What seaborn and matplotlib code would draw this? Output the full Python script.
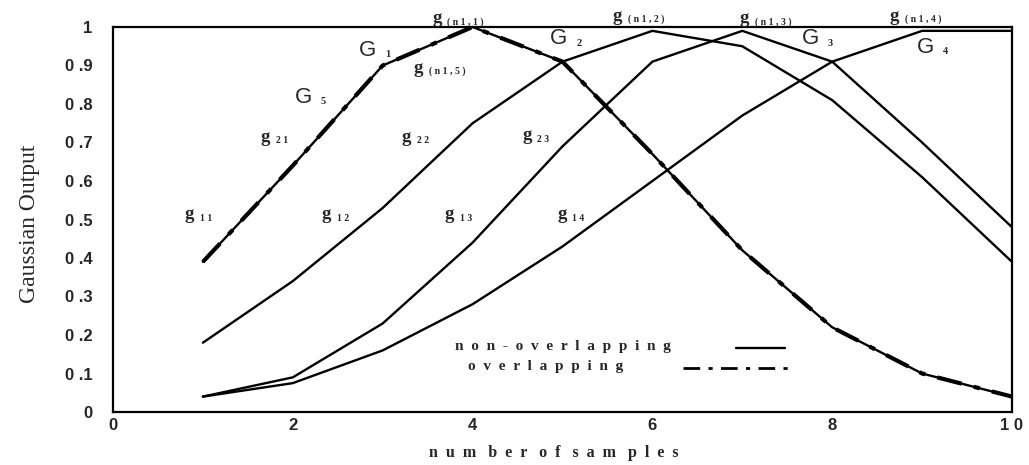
import numpy as np
import pandas as pd
import seaborn as sns
import matplotlib.pyplot as plt
from matplotlib.lines import Line2D

# Gaussian outputs sampled at integer sample counts
samples = [1, 2, 3, 4, 5, 6, 7, 8, 9, 10]
g1_out = [0.39, 0.64, 0.90, 1.00, 0.91, 0.67, 0.42, 0.22, 0.10, 0.04]
g2_out = [0.18, 0.34, 0.53, 0.75, 0.91, 0.99, 0.95, 0.81, 0.61, 0.39]
g3_out = [0.04, 0.09, 0.23, 0.44, 0.69, 0.91, 0.99, 0.91, 0.70, 0.48]
g4_out = [0.04, 0.075, 0.16, 0.28, 0.43, 0.60, 0.77, 0.91, 0.99, 0.99]
g5_overlap = [0.39, 0.64, 0.90, 1.00, 0.91, 0.67, 0.42, 0.22, 0.10, 0.04]

x_ticks = [0, 2, 4, 6, 8, 10]
x_tick_labels = ["0", "2", "4", "6", "8", "1 0"]
y_ticks = [0, 0.1, 0.2, 0.3, 0.4, 0.5, 0.6, 0.7, 0.8, 0.9, 1.0]
y_tick_labels = ["0", "0 .1", "0 .2", "0 .3", "0 .4", "0 .5",
                 "0 .6", "0 .7", "0 .8", "0 .9", "1"]

# curve annotations: (kind, main, sub, x, y)
curve_labels = [
    ("g", "g", "(n1,1)", 3.55, 1.022),
    ("g", "g", "(n1,2)", 5.56, 1.028),
    ("g", "g", "(n1,3)", 6.97, 1.022),
    ("g", "g", "(n1,4)", 8.64, 1.028),
    ("g", "g", "(n1,5)", 3.34, 0.893),
    ("g", "g", "21", 1.64, 0.714),
    ("g", "g", "22", 3.21, 0.714),
    ("g", "g", "23", 4.55, 0.717),
    ("g", "g", "11", 0.80, 0.512),
    ("g", "g", "12", 2.32, 0.512),
    ("g", "g", "13", 3.69, 0.512),
    ("g", "g", "14", 4.94, 0.512),
    ("G", "G", "1", 2.73, 0.94),
    ("G", "G", "5", 2.02, 0.818),
    ("G", "G", "2", 4.86, 0.971),
    ("G", "G", "3", 7.66, 0.97),
    ("G", "G", "4", 8.94, 0.948),
]

sns.set_theme(style="white")
plt.rcParams["font.family"] = ["Liberation Sans", "DejaVu Sans"]

fig = plt.figure(figsize=(10.29, 4.65), dpi=100)
ax = fig.add_axes([113 / 1029, 53 / 465, 899 / 1029, 385 / 465])

long = pd.DataFrame({
    "samples": samples * 4,
    "output": g1_out + g2_out + g3_out + g4_out,
    "curve": ["G1"] * 10 + ["G2"] * 10 + ["G3"] * 10 + ["G4"] * 10,
})
sns.lineplot(data=long, x="samples", y="output", hue="curve",
             palette=["black"] * 4, linewidth=1.7, legend=False,
             ax=ax, clip_on=False)
sns.lineplot(x=samples, y=g5_overlap, color="black", linewidth=3.0,
             linestyle=(0, (6, 3, 1.5, 3)), ax=ax, clip_on=False)

ax.set_xlim(0, 10)
ax.set_ylim(0, 1)
ax.set_xticks(x_ticks)
ax.set_xticklabels(x_tick_labels)
ax.set_yticks(y_ticks)
ax.set_yticklabels(y_tick_labels)
ax.tick_params(axis="both", length=0, labelsize=12)
ax.tick_params(axis="x", pad=4)
ax.tick_params(axis="y", pad=15)
for lab in ax.get_xticklabels() + ax.get_yticklabels():
    lab.set_fontweight("bold")
for sp in ax.spines.values():
    sp.set_visible(True)
    sp.set_color("black")
    sp.set_linewidth(1.6)

ax.set_xlabel("n  u  m   b  e  r   o  f   s  a  m   p  l  e  s",
              family="Liberation Serif", fontweight="bold", fontsize=11.5)
ax.set_ylabel("Gaussian Output", family="Liberation Serif", fontsize=17)
ax.xaxis.set_label_coords(0.49, -0.085)
ax.yaxis.set_label_coords(-0.081, 0.49)

# curve annotations with small subscripts
for kind, main, sub, x, y in curve_labels:
    if kind == "g":
        ax.text(x, y, main, family="Liberation Serif", fontweight="bold",
                fontsize=13.5, ha="left", va="center")
        ax.annotate(" ".join(sub), xy=(x, y), xytext=(11, -2.5),
                    textcoords="offset points", family="Liberation Serif",
                    fontweight="bold", fontsize=7, ha="left", va="center",
                    annotation_clip=False)
    else:
        ax.text(x, y, main, fontsize=16, ha="left", va="center")
        ax.annotate(sub, xy=(x, y), xytext=(19, -3.5),
                    textcoords="offset points", family="Liberation Serif",
                    fontweight="bold", fontsize=7.5, ha="left", va="center",
                    annotation_clip=False)

# key for the two line styles
ax.text(0.380, 0.171, "n  o  n  -  o  v  e  r  l  a  p  p  i  n  g",
        transform=ax.transAxes, family="Liberation Serif", fontweight="bold",
        fontsize=11, ha="left", va="center")
ax.text(0.395, 0.117, "o  v  e  r  l  a  p  p  i  n  g",
        transform=ax.transAxes, family="Liberation Serif", fontweight="bold",
        fontsize=11, ha="left", va="center")
ax.add_line(Line2D([0.693, 0.747], [0.166, 0.166], transform=ax.transAxes,
                   color="black", linewidth=1.7))
ax.add_line(Line2D([0.634, 0.753], [0.114, 0.114], transform=ax.transAxes,
                   color="black", linewidth=2.0,
                   linestyle=(0, (6, 3, 1.5, 3))))

fig.savefig("out.png", dpi=100, facecolor="white")
